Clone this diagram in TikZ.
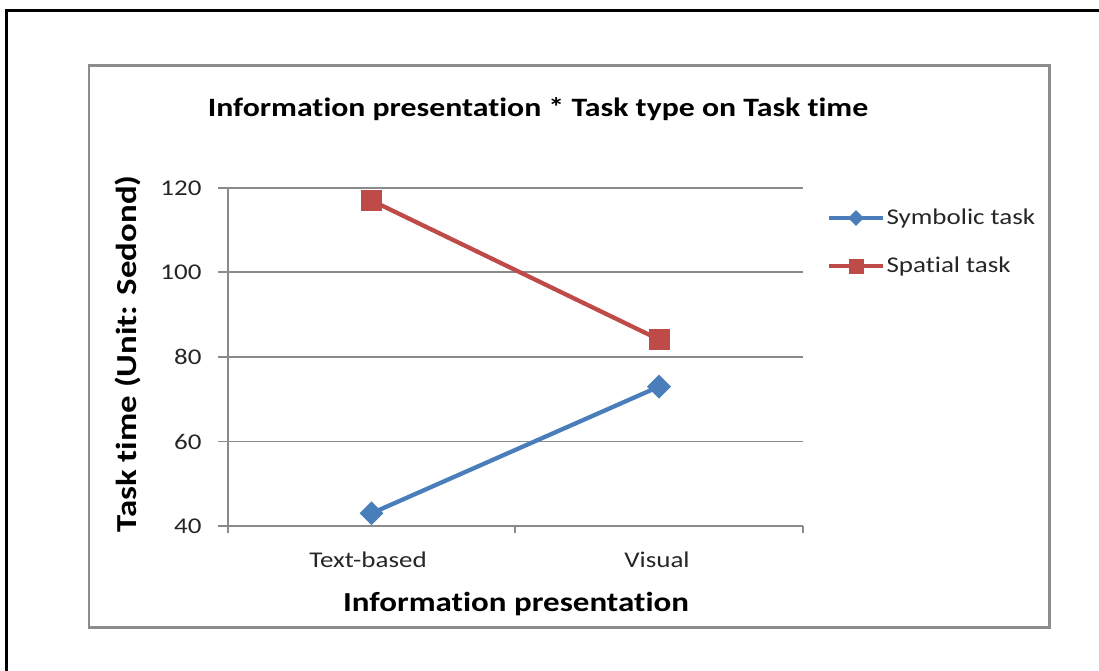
\documentclass[tikz,border=0pt]{standalone}
\usepackage{fontspec}
\setmainfont{Carlito}[FakeStretch=1.2, Ligatures={NoCommon}]
\usepackage{tikz}
\usetikzlibrary{shapes.geometric}
\definecolor{symblue}{HTML}{4A7EBB}
\definecolor{spared}{HTML}{BE4B48}
\definecolor{framegray}{HTML}{8C8C8C}
\definecolor{gridgray}{HTML}{8A8A8A}

\begin{document}
\begin{tikzpicture}[
  x=1pt, y=-1pt,
  gridline/.style={draw=gridgray, line width=1.3pt},
  diamondmark/.style={diamond, fill=symblue, inner sep=0pt, minimum size=#1},
  squaremark/.style={rectangle, fill=spared, inner sep=0pt, minimum size=#1},
  serieslink/.style={line width=4.3pt, draw=#1},
  ticklabel/.style={font=\fontsize{22.5}{24}\selectfont, text=black!85},
  axistitle/.style={font=\bfseries\fontsize{#1}{28}\selectfont},
]
  \useasboundingbox (0,0) rectangle (1099,671);
  \draw[line width=3.5pt] (6.5,671) -- (6.5,10.5) -- (1099,10.5);
  \draw[framegray, line width=2.6pt] (89,65.5) rectangle (1049.5,627.5);

  % Grid and axes
  \foreach \v/\yy in {40/526, 60/441.5, 80/357, 100/272, 120/188} {
    \draw[gridline] (218,\yy) -- (803,\yy);
    \node[ticklabel, anchor=east] (tick\v) at (205,\yy) {\v};
  }
  \draw[gridline] (228,188) -- (228,533);
  \foreach \xx in {515, 803} \draw[gridline] (\xx,526) -- (\xx,533);

  \node[ticklabel] (cattext) at (368,560) {Text-based};
  \node[ticklabel] (catvisual) at (657,560) {Visual};

  \node[axistitle=26.5] (title) at (538,109) {Information presentation * Task type on Task time};
  \node[axistitle=27.5] (xtitle) at (516,604) {Information presentation};
  \node[axistitle=29, rotate=90] (ytitle) at (128,354) {Task time (Unit: Sedond)};

  % Data
  \coordinate (symA) at (371.5,513.3);
  \coordinate (symB) at (659,386.6);
  \coordinate (spaA) at (371.5,200.5);
  \coordinate (spaB) at (659,339.5);
  \draw[serieslink=symblue] (symA) -- (symB);
  \draw[serieslink=spared] (spaA) -- (spaB);
  \node[diamondmark=24pt] (symAm) at (symA) {};
  \node[diamondmark=24pt] (symBm) at (symB) {};
  \node[squaremark=21pt] (spaAm) at (spaA) {};
  \node[squaremark=21pt] (spaBm) at (spaB) {};

  % Legend
  \coordinate (legsymL) at (829,218);
  \coordinate (legsymR) at (883,218);
  \coordinate (legspaL) at (829,266);
  \coordinate (legspaR) at (883,266);
  \draw[serieslink=symblue] (legsymL) -- (legsymR);
  \draw[serieslink=spared] (legspaL) -- (legspaR);
  \node[diamondmark=16pt] (legsymm) at (856,218) {};
  \node[squaremark=15pt] (legspam) at (856,266) {};
  \node[ticklabel, anchor=west] (legsym) at (883,219) {Symbolic task};
  \node[ticklabel, anchor=west] (legspa) at (883,267) {Spatial task};
\end{tikzpicture}
\end{document}
